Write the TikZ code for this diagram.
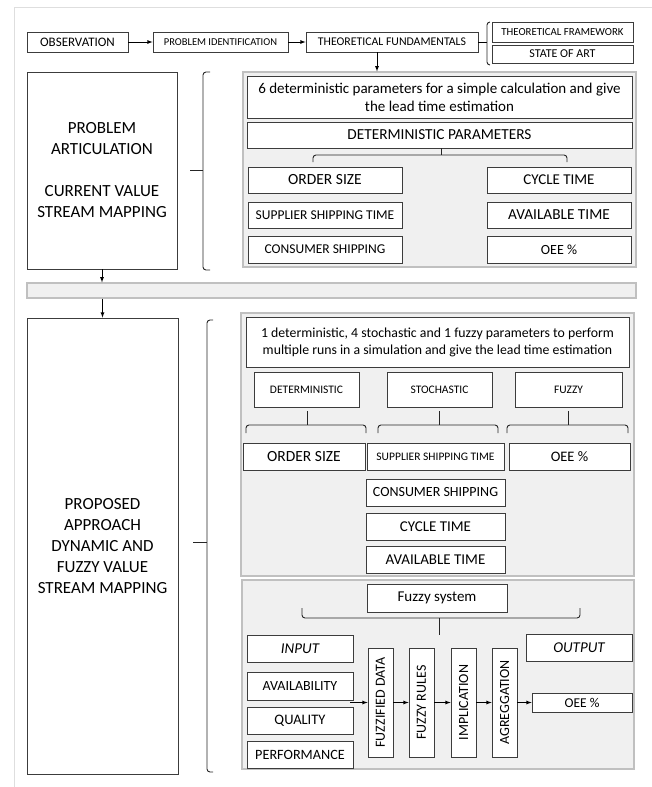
\documentclass[tikz,border=0pt]{standalone}
\usepackage{fontspec}
\setmainfont{Carlito}
\usepackage{graphicx}

\definecolor{boxline}{RGB}{60,60,60}
\definecolor{panelfill}{RGB}{240,240,240}
\definecolor{panelline}{RGB}{192,192,192}
\definecolor{frameline}{RGB}{222,222,222}

\tikzset{
  box/.style={draw=boxline, fill=white, line width=0.8pt, inner sep=1pt, align=center},
  panel/.style={draw=panelline, fill=panelfill, line width=1.2pt},
  brace/.style={draw=black!85, line width=0.9pt, rounded corners=3pt},
  txt/.style 2 args={font=\fontsize{#1}{#2}\selectfont},
  arr/.style={->, line width=0.8pt},
}

\begin{document}
\begin{tikzpicture}[x=1pt, y=-1pt, >=latex]
\useasboundingbox (0,0) rectangle (652,787);

% frame of the page
\draw[frameline, line width=1pt] (14,787) -- (14,7) -- (652,7);

% top row
\node[box, txt={13}{16}, minimum width=101, minimum height=20] (obs) at (77.5,42) {OBSERVATION};
\node[box, txt={10.5}{12}, minimum width=135, minimum height=20] (pid) at (220.5,42) {PROBLEM IDENTIFICATION};
\node[box, txt={11.8}{13}, minimum width=172, minimum height=20] (tf) at (392,42) {THEORETICAL FUNDAMENTALS};
\node[box, txt={10.8}{12}, minimum width=141, minimum height=20] (tfw) at (562.5,32) {THEORETICAL FRAMEWORK};
\node[box, txt={12}{14}, minimum width=141, minimum height=18] (soa) at (562.5,54) {STATE OF ART};
\draw[arr] (obs) -- (pid);
\draw[arr] (pid) -- (tf);
\draw[line width=0.8pt] (tf.east) -- ++(9,0);
\draw[brace] (490,22) -- (487,22) -- (487,65) -- (490,65);

% current value stream mapping
\node[box, txt={17}{21}, minimum width=150, minimum height=197] (prob) at (102,170.5)
  {PROBLEM\\ARTICULATION\\[21pt]CURRENT VALUE\\STREAM MAPPING};
\draw[brace] (210,72) -- (203,72) -- (203,270) -- (210,270);
\draw[brace] (203,170) -- (190,170);

\node[panel, minimum width=393, minimum height=195] (upanel) at (439.5,169.5) {};
\draw[arr] ([xshift=-15pt]tf.south) -- ([xshift=-15pt]tf.south |- upanel.north);
\node[box, txt={15}{18}, minimum width=385, minimum height=42] (utext) at (439.5,97)
  {6 deterministic parameters for a simple calculation and give\\the lead time estimation};
\node[box, txt={15.3}{17}, minimum width=385, minimum height=26] (detpar) at (439.5,135) {DETERMINISTIC PARAMETERS};
\draw[brace] (313,162) -- (313,155) -- (567,155) -- (567,162);
\draw[brace] (441,148) -- (441,155);

\node[box, txt={15.5}{17}, minimum width=154, minimum height=26] (uorder) at (325,180) {ORDER SIZE};
\node[box, txt={13.5}{15}, minimum width=154, minimum height=26] (usupp) at (325,215) {SUPPLIER SHIPPING TIME};
\node[box, txt={13.5}{16}, minimum width=154, minimum height=27] (ucons) at (325,249.5) {CONSUMER SHIPPING};
\node[box, txt={15}{17}, minimum width=144, minimum height=26] (ucycle) at (559,180) {CYCLE TIME};
\node[box, txt={15.3}{17}, minimum width=144, minimum height=26] (uavail) at (559,215) {AVAILABLE TIME};
\node[box, txt={14}{17}, minimum width=144, minimum height=27] (uoee) at (559,249.5) {OEE \%};

% separator bar
\node[panel, minimum width=609, minimum height=15] (bar) at (331.5,290.5) {};
\draw[arr] (prob.south) -- (prob.south |- bar.north);

% dynamic and fuzzy value stream mapping
\node[box, txt={17}{21}, minimum width=151, minimum height=456] (prop) at (102.5,546)
  {PROPOSED\\APPROACH\\DYNAMIC AND\\FUZZY VALUE\\STREAM MAPPING};
\draw[arr] (bar.south -| prop.north) -- (prop.north);
\draw[brace] (213,320) -- (207,320) -- (207,772) -- (213,772);
\draw[brace] (207,542) -- (193,542);

\node[panel, minimum width=393, minimum height=263] (lpanel) at (437.5,444.5) {};
\node[box, txt={13.8}{17}, minimum width=383, minimum height=50] (ltext) at (437.5,342)
  {1 deterministic, 4 stochastic and 1 fuzzy parameters to perform\\multiple runs in a simulation and give the lead time estimation};
\node[box, txt={11.5}{13}, minimum width=105, minimum height=35] (det) at (306.5,389.5) {DETERMINISTIC};
\node[box, txt={11.5}{13}, minimum width=105, minimum height=35] (sto) at (439.5,389.5) {STOCHASTIC};
\node[box, txt={11.5}{13}, minimum width=107, minimum height=35] (fuz) at (568.5,389.5) {FUZZY};
\foreach \a/\m/\b in {246/307/366, 378/439/498, 507/568/628} {
  \draw[brace] (\a,433) -- (\a,425) -- (\b,425) -- (\b,433);
  \draw[brace] (\m,411) -- (\m,425);
}
\node[box, txt={15.5}{17}, minimum width=122, minimum height=27] (lorder) at (304,456.5) {ORDER SIZE};
\node[box, txt={11.5}{13}, minimum width=137, minimum height=27] (lsupp) at (435.5,456.5) {SUPPLIER SHIPPING TIME};
\node[box, txt={14.5}{17}, minimum width=121, minimum height=27] (loee) at (569.5,456.5) {OEE \%};
\node[box, txt={14}{17}, minimum width=139, minimum height=27] (lcons) at (435.5,492.5) {CONSUMER SHIPPING};
\node[box, txt={15}{17}, minimum width=139, minimum height=27] (lcycle) at (435.5,526.5) {CYCLE TIME};
\node[box, txt={15}{17}, minimum width=139, minimum height=27] (lavail) at (435.5,559.5) {AVAILABLE TIME};

% fuzzy system
\node[panel, minimum width=392, minimum height=189] (fpanel) at (438,674.5) {};
\node[box, txt={15}{17}, minimum width=140, minimum height=28] (fsys) at (437,598) {Fuzzy system};
\draw[brace] (302,608) -- (302,618) -- (580,618) -- (580,608);
\draw[brace] (439,618) -- (439,635);

\node[box, txt={15}{17}, minimum width=106, minimum height=27] (input) at (300,648.5) {\itshape INPUT};
\node[box, txt={14}{17}, minimum width=106, minimum height=28] (avail) at (300,686) {AVAILABILITY};
\node[box, txt={14.5}{17}, minimum width=106, minimum height=27] (qual) at (300,720.5) {QUALITY};
\node[box, txt={14.2}{17}, minimum width=106, minimum height=27] (perf) at (300,754.5) {PERFORMANCE};
\node[box, txt={15}{17}, minimum width=106, minimum height=27] (output) at (579,647.5) {\itshape OUTPUT};

\node[box, txt={14}{17}, minimum width=25, minimum height=109] (fd) at (380.5,702.5) {\rotatebox{90}{FUZZIFIED DATA}};
\node[box, txt={14}{17}, minimum width=25, minimum height=109] (fr) at (421.5,702.5) {\rotatebox{90}{FUZZY RULES}};
\node[box, txt={14}{17}, minimum width=25, minimum height=109] (imp) at (463.5,702.5) {\rotatebox{90}{IMPLICATION}};
\node[box, txt={14}{17}, minimum width=25, minimum height=109] (agg) at (504.5,702.5) {\rotatebox{90}{AGREGGATION}};
\node[box, txt={13.5}{16}, minimum width=100, minimum height=19] (foee) at (582,702.5) {OEE \%};

\coordinate (inarr) at (350,702.5);
\draw[arr] (inarr) -- (fd);
\draw[arr] (fd) -- (fr);
\draw[arr] (fr) -- (imp);
\draw[arr] (imp) -- (agg);
\draw[arr] (agg) -- (foee);
\end{tikzpicture}
\end{document}
